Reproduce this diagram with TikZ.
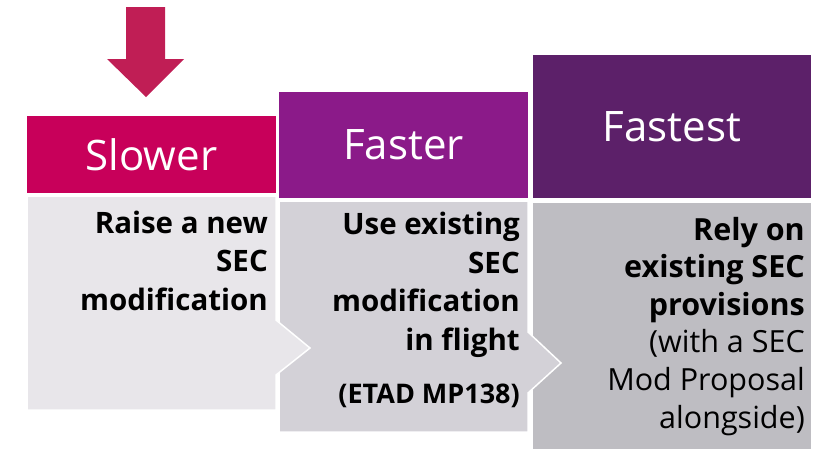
\documentclass[tikz,border=0pt]{standalone}
\usepackage{fontspec}
\setmainfont{Open Sans}
\definecolor{cArrow}{HTML}{C01E55}
\definecolor{cSlow}{HTML}{C8005A}
\definecolor{cFast}{HTML}{8B1A89}
\definecolor{cFastest}{HTML}{5C2069}
\definecolor{bSlow}{HTML}{E8E6EA}
\definecolor{bFast}{HTML}{D3D1D7}
\definecolor{bFastest}{HTML}{BEBDC2}
\tikzset{
  hdrtext/.style={text=white, font=\fontsize{42}{46}\selectfont, inner sep=0pt},
  bodytext/.style={align=right, inner sep=0pt, anchor=base east, font=\fontsize{29.5}{38.5}\selectfont\bfseries},
  bodyshape/.style={draw=white, line width=1.5pt, line join=miter},
}
\begin{document}
\begin{tikzpicture}[x=1pt,y=-1pt]
\useasboundingbox (0,0) rectangle (818,448);
% arrow
\fill[cArrow] (126,7) -- (165,7) -- (165,59) -- (184,59) -- (146,97) -- (107,59) -- (126,59) -- cycle;
\node[inner sep=0pt] (arrow) at (146,50) {};
% headers
\fill[cSlow] (27,116) rectangle (276,193);
\fill[cFast] (279,92) rectangle (528,198);
\fill[cFastest] (533,55) rectangle (811,198);
\node[hdrtext] (hslow) at (151.5,154.5) {Slower};
\node[hdrtext] (hfast) at (403.5,145) {Faster};
\node[hdrtext] (hfastest) at (672,127) {Fastest};
% bodies
\fill[bFastest] (533,203) rectangle (811,460);
\path[bodyshape, fill=bFast] (279,201) -- (528,201) -- (528,332) -- (561,363) -- (528,393) -- (528,432) -- (279,432) -- cycle;
\path[bodyshape, fill=bSlow] (27,196) -- (276,196) -- (276,320) -- (310,348) -- (276,375) -- (276,410) -- (27,410) -- cycle;
% texts
\node[bodytext] (tslow) at (268,310) {Raise a new\\SEC\\modification};
\node[bodytext] (tfast) at (520,350) {Use existing\\SEC\\modification\\in flight};
\node[bodytext, font=\fontsize{27}{30}\selectfont\bfseries] (tmp) at (520,403) {(ETAD MP138)};
\node[bodytext, font=\fontsize{30.5}{37.6}\selectfont] (tfastest) at (805,428) {\textbf{Rely on}\\\textbf{existing SEC}\\\textbf{provisions}\\(with a SEC\\Mod Proposal\\alongside)};
\end{tikzpicture}
\end{document}
